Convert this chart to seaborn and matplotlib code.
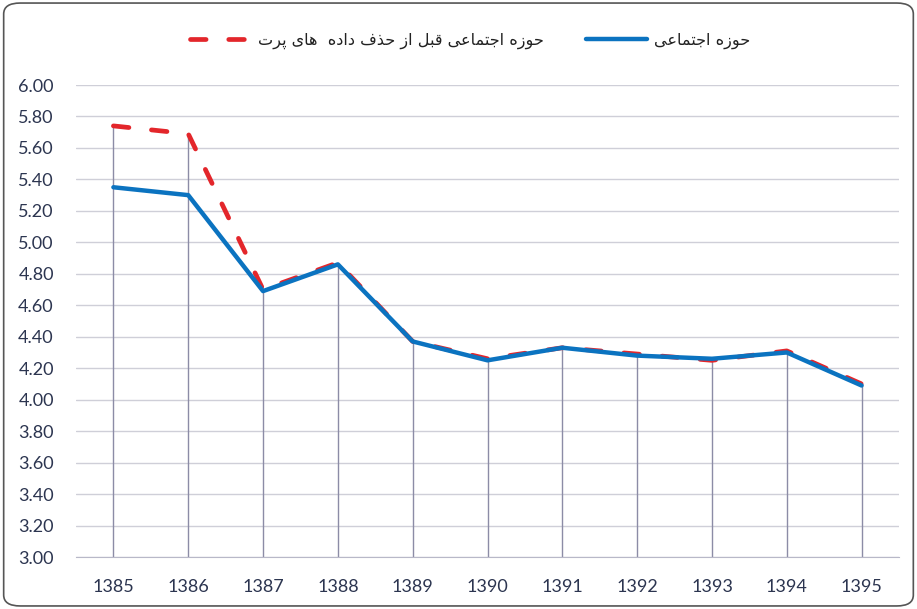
import numpy as np
import pandas as pd
import matplotlib
matplotlib.use("Agg")
import matplotlib.pyplot as plt
from matplotlib.patches import FancyBboxPatch
import seaborn as sns

years = [1385, 1386, 1387, 1388, 1389, 1390, 1391, 1392, 1393, 1394, 1395]
social = [5.35, 5.30, 4.69, 4.86, 4.37, 4.25, 4.33, 4.28, 4.26, 4.30, 4.09]
social_before = [5.74, 5.69, 4.70, 4.87, 4.37, 4.26, 4.33, 4.29, 4.25, 4.31, 4.10]
label_social = "حوزه اجتماعی"
label_before = "حوزه اجتماعی قبل از حذف داده  های پرت"
yticks = [3.0, 3.2, 3.4, 3.6, 3.8, 4.0, 4.2, 4.4, 4.6, 4.8, 5.0, 5.2, 5.4, 5.6, 5.8, 6.0]

# arabic presentation forms: isolated, final, initial, medial
FORMS = {
    'ا': ('\uFE8D', '\uFE8E', None, None),
    'ب': ('\uFE8F', '\uFE90', '\uFE91', '\uFE92'),
    'ت': ('\uFE95', '\uFE96', '\uFE97', '\uFE98'),
    'ج': ('\uFE9D', '\uFE9E', '\uFE9F', '\uFEA0'),
    'ح': ('\uFEA1', '\uFEA2', '\uFEA3', '\uFEA4'),
    'د': ('\uFEA9', '\uFEAA', None, None),
    'ذ': ('\uFEAB', '\uFEAC', None, None),
    'ر': ('\uFEAD', '\uFEAE', None, None),
    'ز': ('\uFEAF', '\uFEB0', None, None),
    'ع': ('\uFEC9', '\uFECA', '\uFECB', '\uFECC'),
    'ف': ('\uFED1', '\uFED2', '\uFED3', '\uFED4'),
    'ق': ('\uFED5', '\uFED6', '\uFED7', '\uFED8'),
    'ل': ('\uFEDD', '\uFEDE', '\uFEDF', '\uFEE0'),
    'م': ('\uFEE1', '\uFEE2', '\uFEE3', '\uFEE4'),
    'ه': ('\uFEE9', '\uFEEA', '\uFEEB', '\uFEEC'),
    'و': ('\uFEED', '\uFEEE', None, None),
    'ی': ('\uFBFC', '\uFBFD', '\uFBFE', '\uFBFF'),
    'پ': ('\uFB56', '\uFB57', '\uFB58', '\uFB59'),
}


def shape(text):
    out = []
    for i, ch in enumerate(text):
        if ch not in FORMS:
            out.append(ch)
            continue
        prev = text[i - 1] if i > 0 else ''
        nxt = text[i + 1] if i + 1 < len(text) else ''
        join_prev = prev in FORMS and FORMS[prev][2] is not None
        join_next = nxt in FORMS and FORMS[ch][2] is not None
        iso, fin, ini, med = FORMS[ch]
        if join_prev and join_next:
            out.append(med)
        elif join_prev:
            out.append(fin)
        elif join_next:
            out.append(ini)
        else:
            out.append(iso)
    return ''.join(out)[::-1]


df = pd.DataFrame({'year': years, 'social': social, 'before': social_before})

sns.set_style('white')
plt.rcParams['font.family'] = ['DejaVu Sans']

fig = plt.figure(figsize=(9.17, 6.09), dpi=100)
ax = fig.add_axes([76 / 917, 1 - 557 / 609, (899 - 76) / 917, (557 - 85) / 609])

# drop lines
top = np.maximum(df['social'], df['before'])
ax.vlines(df['year'], 3.0, top, color='#8c8ca6', linewidth=1.0, zorder=1)

sns.lineplot(data=df, x='year', y='before', ax=ax, color='#E3262B', linewidth=3.4,
             label=shape(label_before), zorder=3)
ax.lines[-1].set_dashes([3.3, 4.8])
ax.lines[-1].set_dash_capstyle('round')
sns.lineplot(data=df, x='year', y='social', ax=ax, color='#0B73C0', linewidth=3.2,
             label=shape(label_social), zorder=4)

ax.set_xlim(1384.5, 1395.5)
ax.set_ylim(3.0, 6.0)
ax.set_yticks(yticks)
ax.set_yticklabels([f'{v:.2f}' for v in yticks])
ax.set_xticks(years)
ax.set_xticklabels([str(y) for y in years])
ax.grid(axis='y', color='#cfcfd8', linewidth=1.0)
ax.set_axisbelow(True)
ax.set_xlabel('')
ax.set_ylabel('')
for s in ['top', 'right', 'left']:
    ax.spines[s].set_visible(False)
ax.spines['bottom'].set_color('#b8b8c8')
ax.tick_params(axis='both', length=0, labelsize=13, labelcolor='#2c3550')
ax.tick_params(axis='x', pad=16)
ax.tick_params(axis='y', pad=16)
for lab in ax.get_xticklabels() + ax.get_yticklabels():
    lab.set_family('Lato')

leg = ax.legend(loc='upper center', bbox_to_anchor=(0.479, 1.142), ncol=2, frameon=False,
                fontsize=11.6, handlelength=3.8, columnspacing=2.6, handletextpad=0.45)
for t in leg.get_texts():
    t.set_color('#222222')

fig.patches.append(FancyBboxPatch((0.004, 0.005), 0.992, 0.99, boxstyle='round,pad=0,rounding_size=0.018',
                                  transform=fig.transFigure, fill=False, edgecolor='#555555',
                                  linewidth=1.2))

fig.savefig('out.png', dpi=100)
